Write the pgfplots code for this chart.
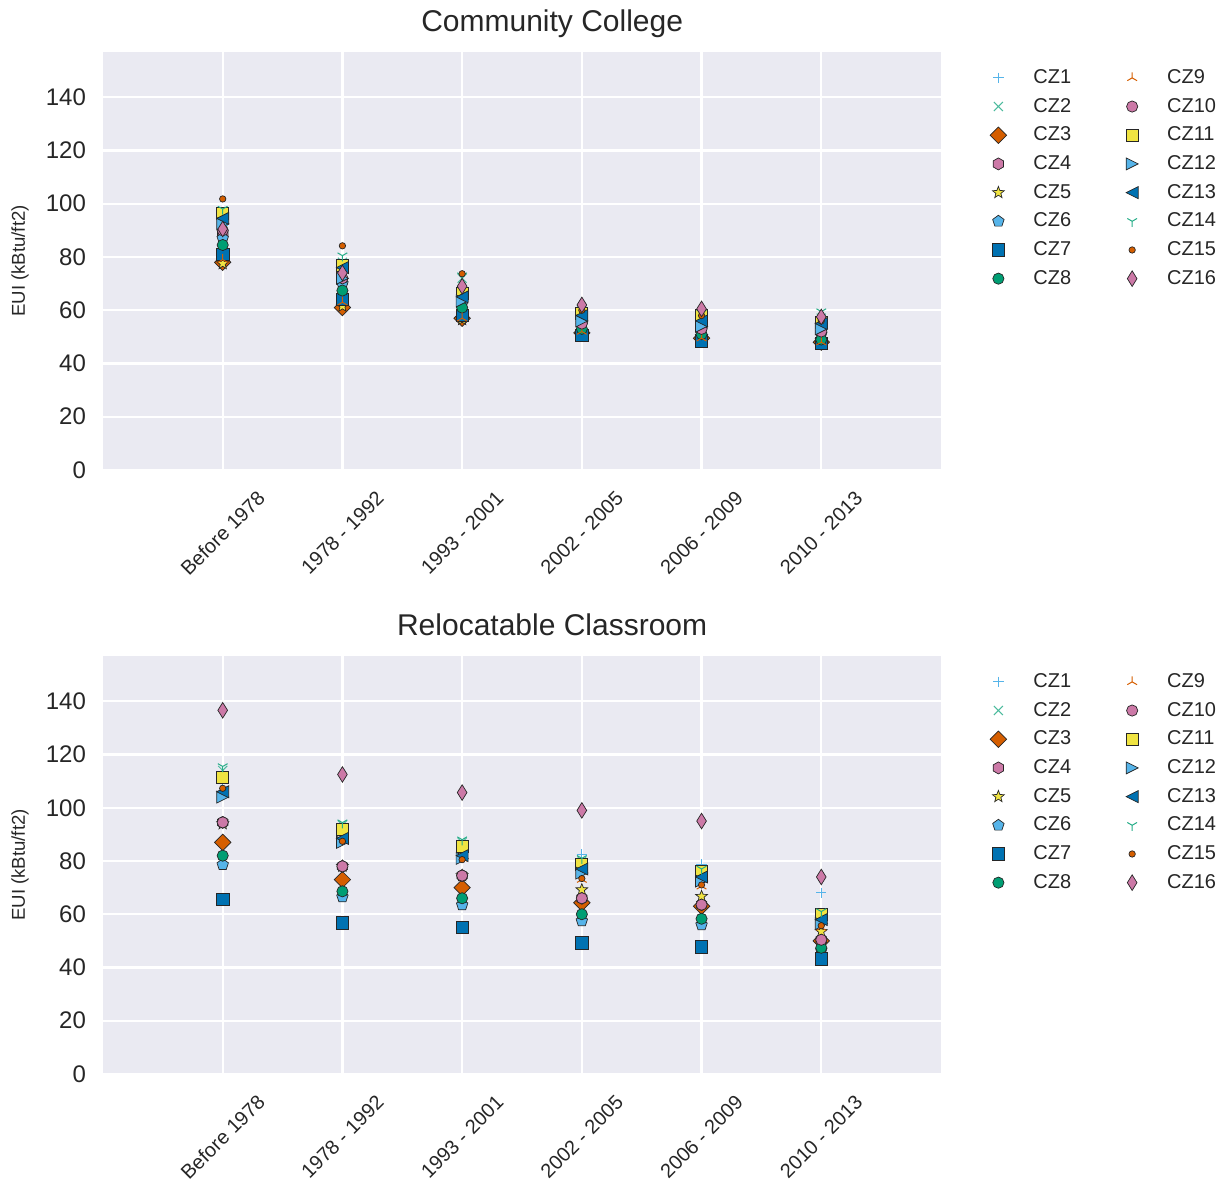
\documentclass[border=0pt]{standalone}
\usepackage{pgfplots}
\usepackage{pgfplotstable}
\pgfplotsset{compat=1.18}
\usepackage{fontspec}
\setmainfont{Liberation Sans}

% colour-blind palette
\definecolor{cbBlue}{HTML}{0072B2}
\definecolor{cbGreen}{HTML}{009E73}
\definecolor{cbOrange}{HTML}{D55E00}
\definecolor{cbPink}{HTML}{CC79A7}
\definecolor{cbYellow}{HTML}{F0E442}
\definecolor{cbSky}{HTML}{56B4E9}
\definecolor{panel}{HTML}{EAEAF2}
\definecolor{txt}{HTML}{262626}

% ---- marker shapes ----
\pgfdeclareplotmark{sqdiamond}{%
  \pgfpathmoveto{\pgfqpoint{0pt}{\pgfplotmarksize}}%
  \pgfpathlineto{\pgfqpoint{\pgfplotmarksize}{0pt}}%
  \pgfpathlineto{\pgfqpoint{0pt}{-\pgfplotmarksize}}%
  \pgfpathlineto{\pgfqpoint{-\pgfplotmarksize}{0pt}}%
  \pgfpathclose\pgfusepathqfillstroke}
\pgfdeclareplotmark{thindiamond}{%
  \pgfpathmoveto{\pgfqpoint{0pt}{\pgfplotmarksize}}%
  \pgfpathlineto{\pgfpoint{0.62\pgfplotmarksize}{0pt}}%
  \pgfpathlineto{\pgfqpoint{0pt}{-\pgfplotmarksize}}%
  \pgfpathlineto{\pgfpoint{-0.62\pgfplotmarksize}{0pt}}%
  \pgfpathclose\pgfusepathqfillstroke}
\pgfdeclareplotmark{hexa}{%
  \pgfpathmoveto{\pgfpointpolar{90}{\pgfplotmarksize}}%
  \pgfpathlineto{\pgfpointpolar{150}{\pgfplotmarksize}}%
  \pgfpathlineto{\pgfpointpolar{210}{\pgfplotmarksize}}%
  \pgfpathlineto{\pgfpointpolar{270}{\pgfplotmarksize}}%
  \pgfpathlineto{\pgfpointpolar{330}{\pgfplotmarksize}}%
  \pgfpathlineto{\pgfpointpolar{30}{\pgfplotmarksize}}%
  \pgfpathclose\pgfusepathqfillstroke}
\pgfdeclareplotmark{penta}{%
  \pgfpathmoveto{\pgfpointpolar{90}{\pgfplotmarksize}}%
  \pgfpathlineto{\pgfpointpolar{162}{\pgfplotmarksize}}%
  \pgfpathlineto{\pgfpointpolar{234}{\pgfplotmarksize}}%
  \pgfpathlineto{\pgfpointpolar{306}{\pgfplotmarksize}}%
  \pgfpathlineto{\pgfpointpolar{18}{\pgfplotmarksize}}%
  \pgfpathclose\pgfusepathqfillstroke}
\pgfdeclareplotmark{starfive}{%
  \pgfpathmoveto{\pgfpointpolar{90}{\pgfplotmarksize}}%
  \pgfpathlineto{\pgfpointpolar{126}{0.42\pgfplotmarksize}}%
  \pgfpathlineto{\pgfpointpolar{162}{\pgfplotmarksize}}%
  \pgfpathlineto{\pgfpointpolar{198}{0.42\pgfplotmarksize}}%
  \pgfpathlineto{\pgfpointpolar{234}{\pgfplotmarksize}}%
  \pgfpathlineto{\pgfpointpolar{270}{0.42\pgfplotmarksize}}%
  \pgfpathlineto{\pgfpointpolar{306}{\pgfplotmarksize}}%
  \pgfpathlineto{\pgfpointpolar{342}{0.42\pgfplotmarksize}}%
  \pgfpathlineto{\pgfpointpolar{18}{\pgfplotmarksize}}%
  \pgfpathlineto{\pgfpointpolar{54}{0.42\pgfplotmarksize}}%
  \pgfpathclose\pgfusepathqfillstroke}
\pgfdeclareplotmark{triright}{%
  \pgfpathmoveto{\pgfqpoint{\pgfplotmarksize}{0pt}}%
  \pgfpathlineto{\pgfqpoint{-\pgfplotmarksize}{\pgfplotmarksize}}%
  \pgfpathlineto{\pgfqpoint{-\pgfplotmarksize}{-\pgfplotmarksize}}%
  \pgfpathclose\pgfusepathqfillstroke}
\pgfdeclareplotmark{trileft}{%
  \pgfpathmoveto{\pgfqpoint{-\pgfplotmarksize}{0pt}}%
  \pgfpathlineto{\pgfqpoint{\pgfplotmarksize}{\pgfplotmarksize}}%
  \pgfpathlineto{\pgfqpoint{\pgfplotmarksize}{-\pgfplotmarksize}}%
  \pgfpathclose\pgfusepathqfillstroke}
\pgfdeclareplotmark{triup}{%
  \pgfpathmoveto{\pgfqpoint{0pt}{0pt}}\pgfpathlineto{\pgfpointpolar{90}{\pgfplotmarksize}}%
  \pgfpathmoveto{\pgfqpoint{0pt}{0pt}}\pgfpathlineto{\pgfpointpolar{210}{\pgfplotmarksize}}%
  \pgfpathmoveto{\pgfqpoint{0pt}{0pt}}\pgfpathlineto{\pgfpointpolar{330}{\pgfplotmarksize}}%
  \pgfusepathqstroke}
\pgfdeclareplotmark{tridown}{%
  \pgfpathmoveto{\pgfqpoint{0pt}{0pt}}\pgfpathlineto{\pgfpointpolar{270}{\pgfplotmarksize}}%
  \pgfpathmoveto{\pgfqpoint{0pt}{0pt}}\pgfpathlineto{\pgfpointpolar{30}{\pgfplotmarksize}}%
  \pgfpathmoveto{\pgfqpoint{0pt}{0pt}}\pgfpathlineto{\pgfpointpolar{150}{\pgfplotmarksize}}%
  \pgfusepathqstroke}

% ---- EUI by vintage and climate zone ----
\pgfplotstableread{
x CZ1 CZ2 CZ3 CZ4 CZ5 CZ6 CZ7 CZ8 CZ9 CZ10 CZ11 CZ12 CZ13 CZ14 CZ15 CZ16
0 92 97 78 89 77.5 87 81 84.5 79 90 96.5 92.5 94.5 98 101.8 90.5
1 76 78 61 71 61.5 70 64 67.4 63 72 77 72 76 80.5 84.2 74
2 67 72 57 66 56.5 62.5 58 61 57 65 66.5 63.5 65 73 73.7 69
3 59 60 51.5 56 52 55 50.5 53 52 55 59 56 58 61 60 62
4 57 58 49.5 54 50 53 48.5 51 49.5 53 58 54 56 59 58 60.5
5 56 57 48 52.5 48.5 51 47.5 49 48 52 55.5 53 55 59.5 56 57.5
}\cctable

\pgfplotstableread{
x CZ1 CZ2 CZ3 CZ4 CZ5 CZ6 CZ7 CZ8 CZ9 CZ10 CZ11 CZ12 CZ13 CZ14 CZ15 CZ16
0 109 114 87 94.5 94 78.6 65.5 82 105 94.5 111.6 104 106 115.5 107.3 136.6
1 91 93.5 73 78 78 66.5 56.8 68.6 88 78 92 87 88.5 94.4 87.4 112.5
2 85 87 70 74.5 74.5 63.5 55 66 81 74.5 85.5 81 82 88 80.5 105.7
3 82.4 80 64.3 66 69.2 57.5 49.3 60 73 66 78.7 75.5 77 81 73.4 99
4 78.7 76.5 63 63.6 66.7 56 47.8 58.3 70.5 63.6 76 72.5 74 77 71 95
5 68 60 50 50.4 53.5 46.5 43.3 47.4 55 50.4 60 56.5 58 61 55.7 74
}\rctable

\pgfplotsset{
  filled/.style={only marks, mark options={draw=black!85, line width=0.35pt, fill=#1}},
  stroked/.style={only marks, color=#1, mark options={line width=0.5pt}},
  cz1/.style={stroked=cbSky, mark=+, mark size=2.6pt},
  cz2/.style={stroked=cbGreen!70, mark=x, mark size=3.2pt},
  cz3/.style={filled=cbOrange, mark=sqdiamond, mark size=4.1pt},
  cz4/.style={filled=cbPink, mark=hexa, mark size=3pt},
  cz5/.style={filled=cbYellow, mark=starfive, mark size=3.1pt},
  cz6/.style={filled=cbSky, mark=penta, mark size=3pt},
  cz7/.style={filled=cbBlue, mark=square*, mark size=3.1pt},
  cz8/.style={filled=cbGreen, mark=*, mark size=2.8pt},
  cz9/.style={stroked=cbOrange, mark=triup, mark size=2.8pt},
  cz10/.style={filled=cbPink, mark=*, mark size=2.8pt},
  cz11/.style={filled=cbYellow, mark=square*, mark size=3pt},
  cz12/.style={filled=cbSky, mark=triright, mark size=3pt},
  cz13/.style={filled=cbBlue, mark=trileft, mark size=3pt},
  cz14/.style={stroked=cbGreen!85, mark=tridown, mark size=2.8pt},
  cz15/.style={filled=cbOrange, mark=*, mark size=1.6pt},
  cz16/.style={filled=cbPink, mark=thindiamond, mark size=3.9pt},
  euiaxis/.style={
    width=419pt, height=209pt, scale only axis,
    anchor=south west,
    xmin=-1, xmax=6, ymin=0, ymax=157,
    axis background/.style={fill=panel},
    axis line style={draw=none},
    xmajorgrids, ymajorgrids,
    major grid style={white, line width=1.1pt},
    tick style={draw=none},
    xtick={0,1,2,3,4,5},
    xticklabels={Before 1978, 1978 - 1992, 1993 - 2001, 2002 - 2005, 2006 - 2009, 2010 - 2013},
    ytick={0,20,40,60,80,100,120,140},
    /pgf/number format/assume math mode=true,
    yticklabel style={font=\fontsize{12}{14}\selectfont, text=txt, xshift=-5pt},
    xticklabel style={font=\fontsize{10}{12}\selectfont, text=txt, yshift=-31.5pt, rotate=45, anchor=center},
    ylabel={EUI (kBtu/ft2)},
    every axis y label/.style={at={(axis description cs:-0.099,0.5)}, rotate=90, anchor=center,
      font=\fontsize{9.3}{11}\selectfont, text=txt},
    every axis title/.style={at={(0.536,1.05)}, anchor=base, font=\fontsize{15}{18}\selectfont, text=txt},
    legend columns=8, transpose legend,
    legend cell align=left,
    legend image code/.code={\draw[##1] plot coordinates {(0pt,0pt)}; \path[draw=none, fill=none] (-6pt,-4pt) rectangle (6pt,4pt);},
    legend style={at={(1,1)}, anchor=north west, xshift=22.5pt, yshift=-8.5pt,
      draw=none, fill=none, inner sep=0pt, row sep=5.86pt,
      font=\fontsize{10}{12}\selectfont, text=txt,
      nodes={inner sep=0pt},
      /tikz/every odd column/.append style={column sep=11.5pt},
      /tikz/every even column/.append style={column sep=24.5pt}},
  },
}

\begin{document}
\begin{tikzpicture}
\path[use as bounding box] (0,0) rectangle (611.5pt,590.5pt);

\begin{axis}[euiaxis, at={(51.5pt,355.5pt)}, title={Community College}]
\pgfplotsinvokeforeach{1,...,16}{%
  \addplot[cz#1] table[x=x, y=CZ#1] {\cctable};
  \addlegendentry{CZ#1}
}
\end{axis}

\begin{axis}[euiaxis, at={(51.5pt,53.5pt)}, title={Relocatable Classroom}]
\pgfplotsinvokeforeach{1,...,16}{%
  \addplot[cz#1] table[x=x, y=CZ#1] {\rctable};
  \addlegendentry{CZ#1}
}
\end{axis}
\end{tikzpicture}
\end{document}
